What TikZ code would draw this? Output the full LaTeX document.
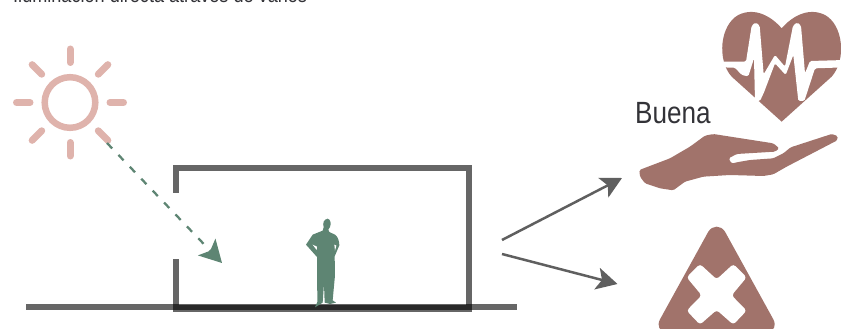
\documentclass[tikz,border=0pt]{standalone}
\usepackage{xcolor}
\usepackage{fontspec}
\usepackage{tikz}
\usetikzlibrary{arrows.meta, positioning}
\newfontfamily\labelfont[FakeStretch=0.85]{Liberation Sans}
\definecolor{sunpink}{RGB}{223,179,172}
\definecolor{iconbrown}{RGB}{161,115,107}
\definecolor{figgreen}{RGB}{94,133,115}
\definecolor{arrowgray}{RGB}{95,95,95}
\definecolor{textdark}{RGB}{51,51,56}
\tikzset{
    ray/.style={draw=sunpink, line width=7pt, line cap=round},
    wall/.style={draw=black, line width=6.3pt, opacity=0.6},
    lightarrow/.style={draw=figgreen, line width=2.3pt, dash pattern=on 7.5pt off 9pt,
        -{Stealth[length=22pt, width=24pt, inset=5pt, fill=figgreen]}},
    outarrow/.style={draw=arrowgray, line width=2.5pt,
        -{Stealth[length=21pt, width=22pt, inset=5pt]}},
    icon/.style={fill=iconbrown, draw=none},
    cutout/.style={fill=white, draw=none}
}

\begin{document}
\begin{tikzpicture}[x=1pt, y=-1pt]
    \useasboundingbox (0,0) rectangle (841,329);

    \node[anchor=base west, inner sep=0pt, text=textdark, font=\labelfont\fontsize{21.3}{24}\selectfont] (title) at (13,2.5) {Iluminación directa através de vanos};
    \node[anchor=base west, inner sep=0pt, text=textdark, font=\labelfont\fontsize{30.7}{32}\selectfont] (buena) at (635,123) {Buena};

    % sun
    \node[circle, draw=sunpink, line width=6.5pt, minimum size=50.6pt, inner sep=0pt] (sun) at (70,102.5) {};
    \foreach \ang in {0,45,...,315} {
        \draw[ray] (sun.center) ++(\ang:40pt) -- ++(\ang:13.5pt);
    }

    % house and ground
    \coordinate (walltop) at (176,192.7);
    \coordinate (wallbottom) at (176,259);
    \draw[wall] (26,307) -- (517,307);
    \draw[wall] (walltop) -- (176,168) -- (469,168) -- (469,308.4) -- (176,308.4) -- (wallbottom);

    % person
    \begin{scope}[shift={(300,212)}, x=0.3333pt, y=-0.3333pt]
        \fill[figgreen] (83,20) .. controls (92,22) and (94,35) .. (90,45) -- (85,53) -- (88,60) -- (105,68)
            .. controls (115,75) and (118,90) .. (118,100) -- (104,133) -- (105,190) -- (98,265)
            -- (108,272) -- (90,276) -- (74,272) -- (72,215) -- (68,272) -- (45,286) -- (52,270)
            -- (51,135) -- (18,98) -- (38,68) -- (68,56) -- (71,46) .. controls (67,32) and (72,22) .. (83,20) -- cycle;
        \fill[white] (38,98) -- (50,114) -- (51,104) -- cycle;
        \fill[white] (103,98) -- (105,116) -- (109,101) -- cycle;
    \end{scope}

    % arrows
    \coordinate (lightstart) at (107,143);
    \coordinate (lightend) at (222,263);
    \coordinate (housefront) at (502,240);
    \coordinate (houseback) at (502,254);
    \coordinate (goodend) at (622,178);
    \coordinate (badend) at (617.5,284);
    \draw[lightarrow] (lightstart) -- (lightend);
    \draw[outarrow] (housefront) -- (goodend);
    \draw[outarrow] (houseback) -- (badend);

    % heart
    \begin{scope}[shift={(715,5)}, x=0.3333pt, y=-0.3333pt]
        \fill[icon] (200,350) -- (50,215) .. controls (5,165) and (15,60) .. (70,30)
            .. controls (120,5) and (170,35) .. (200,70)
            .. controls (230,35) and (280,5) .. (330,30)
            .. controls (385,60) and (395,165) .. (350,215) -- cycle;
        \fill[cutout, rounded corners=1.5pt] (10,170) -- (93,170) -- (110,62) -- (122,52) -- (134,62) -- (146,208)
            -- (180,150) -- (210,185) -- (234,62) -- (247,52) -- (258,62) -- (270,205) -- (285,168) -- (390,165)
            -- (390,187) -- (300,190) -- (268,288) -- (250,288) -- (235,150) -- (212,210) -- (180,175) -- (147,262)
            -- (135,288) -- (120,288) -- (117,160) -- (100,214) -- (80,210) -- (60,188) -- (10,187) -- cycle;
    \end{scope}

    % hand
    \begin{scope}[shift={(630,125)}, x=0.3333pt, y=-0.3333pt]
        \fill[icon, rounded corners=1.5pt] (28,135) -- (120,100) -- (180,65) -- (225,32) -- (250,27) -- (430,55)
            -- (448,70) -- (435,80) -- (320,87) -- (296,100) -- (305,116) -- (320,112) -- (360,105) -- (430,100)
            -- (460,85) -- (482,67) -- (605,27) -- (623,33) -- (622,46) -- (470,125) -- (430,148) -- (400,153)
            -- (300,150) -- (220,155) -- (165,170) -- (130,196) -- (90,190) -- (45,175) -- (30,155) -- cycle;
    \end{scope}

    % warning triangle
    \begin{scope}[shift={(640,220)}, x=0.3333pt, y=-0.3333pt]
        \fill[icon] (205,35) .. controls (218,15) and (242,15) .. (255,35) -- (400,298)
            .. controls (410,318) and (402,335) .. (380,335) -- (80,335)
            .. controls (58,335) and (50,318) .. (60,298) -- cycle;
        \fill[cutout, rounded corners=3pt] (230,178) -- (180,132) -- (140,172) -- (185,226) -- (140,272) -- (180,314)
            -- (230,270) -- (280,314) -- (320,272) -- (275,226) -- (320,172) -- (280,132) -- cycle;
    \end{scope}
\end{tikzpicture}
\end{document}
